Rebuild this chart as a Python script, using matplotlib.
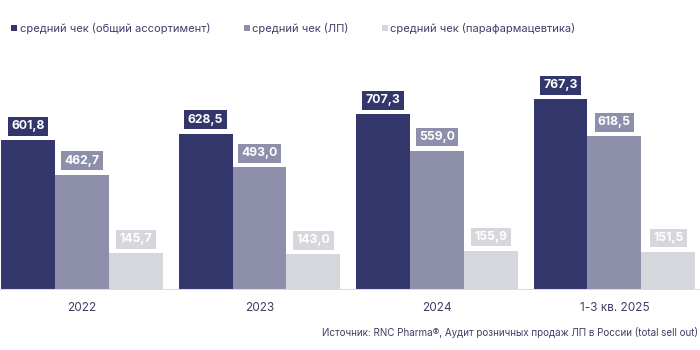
import matplotlib
matplotlib.use("Agg")
import matplotlib.pyplot as plt
from matplotlib.patches import Rectangle
import numpy as np

categories = ["2022", "2023", "2024", "1-3 кв. 2025"]
series_names = ["средний чек (общий ассортимент)", "средний чек (ЛП)", "средний чек (парафармацевтика)"]
total = [601.8, 628.5, 707.3, 767.3]
lp = [462.7, 493.0, 559.0, 618.5]
para = [145.7, 143.0, 155.9, 151.5]
source = "Источник: RNC Pharma®, Аудит розничных продаж ЛП в России (total sell out)"

colors = ["#32366A", "#8E90AB", "#D6D6DD"]
text_color = "#3D3F66"
plt.rcParams['font.family'] = ['Inter', 'DejaVu Sans']

fig = plt.figure(figsize=(7, 3.5), dpi=100)
ax = fig.add_axes([0, 60.5/350, 1, 248/350])
x = np.arange(len(categories))
w = 0.304
data = [total, lp, para]
for i, (vals, c) in enumerate(zip(data, colors)):
    xs = x + (i - 1) * w
    ax.bar(xs, vals, width=w, color=c, linewidth=0)
    for xi, v in zip(xs, vals):
        ax.annotate(f"{v:.1f}".replace(".", ","), (xi, v), xytext=(0, 10), textcoords="offset points",
                    ha="center", va="center", color="white", fontsize=8.8, fontweight="bold",
                    bbox=dict(boxstyle="square,pad=0.28", fc=c, ec="none"))
ax.set_xlim(-0.462, 3.482)
ax.set_ylim(0, 1000)
ax.axhline(0, color="#D9D9DE", lw=1.5)
for s in ax.spines.values():
    s.set_visible(False)
ax.set_yticks([])
ax.set_xticks(x)
ax.set_xticklabels(categories, fontsize=8.5, color=text_color)
ax.tick_params(axis="x", length=0, pad=9)

leg_x = [11, 244, 382]
for lx, name, c in zip(leg_x, series_names, colors):
    fig.patches.append(Rectangle((lx/700, 1 - 31/350), 6/700, 6/350, transform=fig.transFigure,
                                 facecolor=c, edgecolor="none"))
    fig.text((lx + 8.5)/700, 1 - 28/350, name, fontsize=8, color=text_color, va="center", ha="left")

fig.text(698/700, 1 - 333/350, source, fontsize=7.1, color=text_color, ha="right", va="center")
fig.savefig("out.png", dpi=100)
